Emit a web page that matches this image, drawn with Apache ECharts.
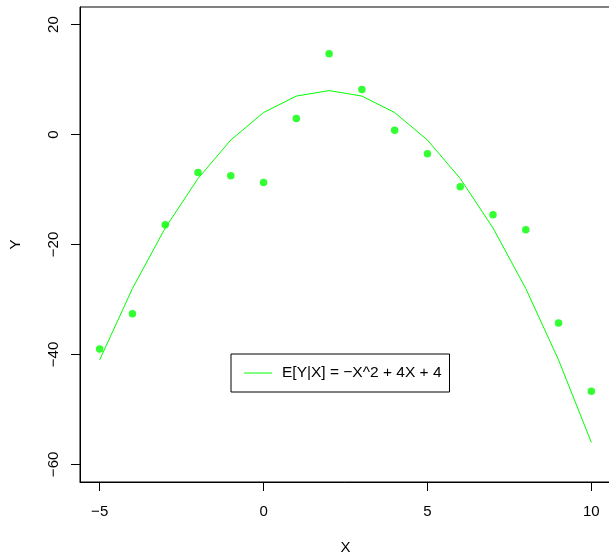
<!DOCTYPE html>
<html>
<head>
<meta charset="utf-8">
<script src="https://cdn.jsdelivr.net/npm/echarts@6/dist/echarts.min.js"></script>
<style>
html,body{margin:0;padding:0;background:#fff;}
#chart{width:609px;height:556px;}
</style>
</head>
<body>
<div id="chart"></div>
<script>
const xValues = [-5, -4, -3, -2, -1, 0, 1, 2, 3, 4, 5, 6, 7, 8, 9, 10];
const yObserved = [-39.0, -32.6, -16.4, -6.9, -7.5, -8.7, 2.9, 14.7, 8.2, 0.8, -3.5, -9.5, -14.6, -17.3, -34.3, -46.7];
const yExpected = [-41, -28, -17, -8, -1, 4, 7, 8, 7, 4, -1, -8, -17, -28, -41, -56];
const xTicks = [-5, 0, 5, 10];
const yTicks = [-60, -40, -20, 0, 20];
const legendLabel = 'E[Y|X] = \u2212X^2 + 4X + 4';

const font = 'Liberation Sans, Arial, Helvetica, sans-serif';
const fmt = v => (v < 0 ? '\u2212' + Math.abs(v) : String(v));

const chart = echarts.init(document.getElementById('chart'), null, {renderer: 'canvas'});
chart.setOption({
  animation: false,
  backgroundColor: '#fff',
  grid: {
    left: 80, top: 7, width: 531, height: 475,
    outerBoundsMode: 'none', containLabel: false,
    show: true, borderColor: '#000', borderWidth: 1, backgroundColor: 'transparent'
  },
  legend: {
    show: true,
    data: [{name: legendLabel, icon: 'rect'}],
    left: 231, top: 354,
    orient: 'horizontal',
    borderColor: '#000', borderWidth: 1, borderRadius: 0,
    backgroundColor: '#fff',
    padding: [11, 8, 11, 13],
    itemWidth: 28, itemHeight: 1,
    itemStyle: {color: '#00FF00'},
    textStyle: {fontFamily: font, fontSize: 15.5, lineHeight: 15, color: '#000', padding: [0, 0, 0, 5]}
  },
  xAxis: {
    type: 'value', min: -5.6, max: 10.6,
    name: 'X', nameLocation: 'middle', nameGap: 58,
    nameTextStyle: {fontFamily: font, fontSize: 15, color: '#000'},
    axisLine: {show: true, onZero: false, lineStyle: {color: '#000', width: 1}},
    axisTick: {show: true, inside: false, length: 9, customValues: xTicks, lineStyle: {color: '#000'}},
    axisLabel: {show: true, margin: 22, customValues: xTicks, formatter: fmt,
      fontFamily: font, fontSize: 15, color: '#000'},
    splitLine: {show: false}
  },
  yAxis: {
    type: 'value', min: -63.2, max: 23.2,
    name: 'Y', nameLocation: 'middle', nameGap: 57, nameRotate: 90,
    nameTextStyle: {fontFamily: font, fontSize: 15, color: '#000'},
    axisLine: {show: true, onZero: false, lineStyle: {color: '#000', width: 1}},
    axisTick: {show: true, inside: false, length: 9, customValues: yTicks, lineStyle: {color: '#000'}},
    axisLabel: {show: true, margin: 19, rotate: 90, customValues: yTicks, formatter: fmt,
      fontFamily: font, fontSize: 15, color: '#000'},
    splitLine: {show: false}
  },
  series: [
    {
      type: 'scatter',
      name: 'observed',
      data: xValues.map((x, i) => [x, yObserved[i]]),
      symbol: 'circle', symbolSize: 7.5,
      itemStyle: {color: '#00FF00'},
      z: 3
    },
    {
      type: 'line',
      name: legendLabel,
      data: xValues.map((x, i) => [x, yExpected[i]]),
      symbol: 'none', showSymbol: false,
      lineStyle: {color: '#00FF00', width: 1},
      itemStyle: {color: '#00FF00'},
      z: 2
    }
  ]
});
</script>
</body>
</html>
